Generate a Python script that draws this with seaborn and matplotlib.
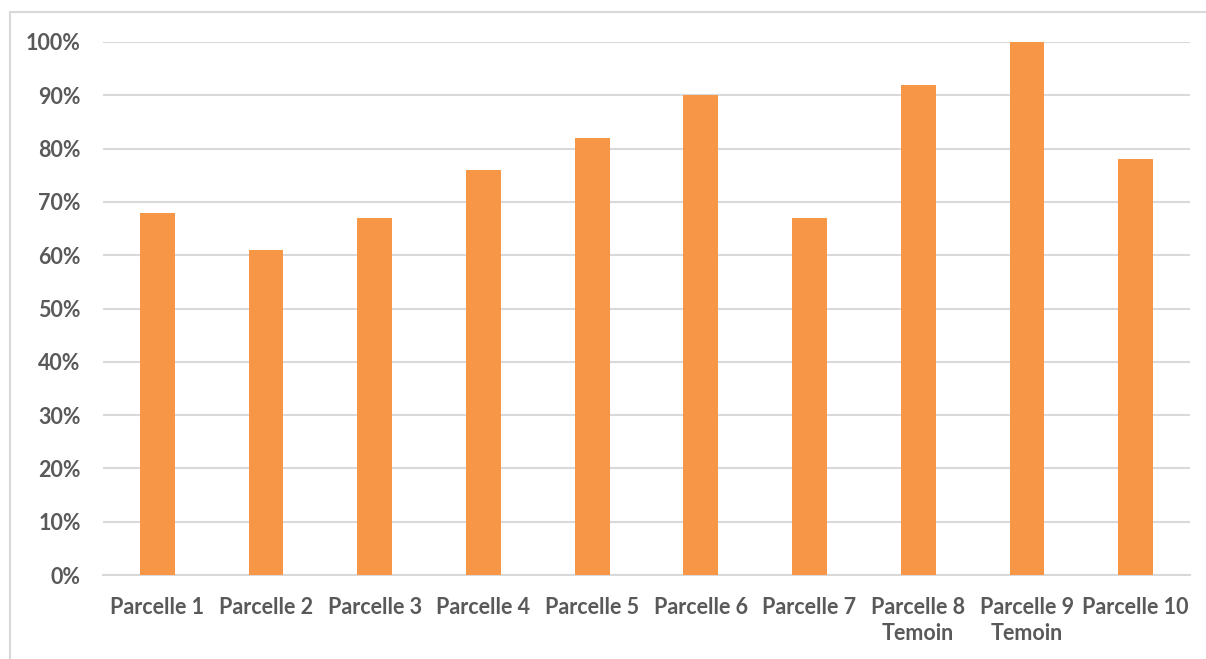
import matplotlib
matplotlib.use("Agg")
import matplotlib.pyplot as plt
from matplotlib.patches import Rectangle
from matplotlib.ticker import PercentFormatter
import seaborn as sns
import pandas as pd

categories = ["Parcelle 1", "Parcelle 2", "Parcelle 3", "Parcelle 4", "Parcelle 5",
              "Parcelle 6", "Parcelle 7", "Parcelle 8\nTemoin", "Parcelle 9\nTemoin", "Parcelle 10"]
values = [68, 61, 67, 76, 82, 90, 67, 92, 100, 78]

df = pd.DataFrame({"parcelle": categories, "valeur": values})

sns.set_theme(style="white")
plt.rcParams["font.family"] = ["Lato", "DejaVu Sans"]

fig = plt.figure(figsize=(12.06, 6.59), dpi=100)
ax = fig.add_axes([103 / 1206, 1 - 575 / 659, (1190 - 103) / 1206, (575 - 42) / 659])

sns.barplot(data=df, x="parcelle", y="valeur", color="#F79646", saturation=1,
            width=0.32, linewidth=0, ax=ax, zorder=3)

ax.set_ylim(0, 100)
ax.set_yticks(range(0, 101, 10))
ax.yaxis.set_major_formatter(PercentFormatter(decimals=0))
ax.grid(axis="y", color="#d9d9d9", linewidth=1.5, zorder=0)
ax.set_axisbelow(True)
for s in ["top", "right", "left"]:
    ax.spines[s].set_visible(False)
ax.spines["bottom"].set_color("#d9d9d9")
ax.spines["bottom"].set_linewidth(1.5)
ax.set_xlabel("")
ax.set_ylabel("")
ax.tick_params(axis="both", length=0, labelsize=15.5, colors="#595959")
ax.tick_params(axis="y", pad=16)
ax.tick_params(axis="x", pad=16)
for lbl in ax.get_xticklabels() + ax.get_yticklabels():
    lbl.set_fontweight("bold")
for lbl in ax.get_xticklabels():
    lbl.set_linespacing(1.3)

fig.patches.append(Rectangle((10 / 1206, -0.1), 1.2, 1 - 12 / 659 + 0.1,
                             transform=fig.transFigure, fill=False,
                             edgecolor="#d9d9d9", linewidth=1.5))

fig.savefig("out.png", dpi=100)
